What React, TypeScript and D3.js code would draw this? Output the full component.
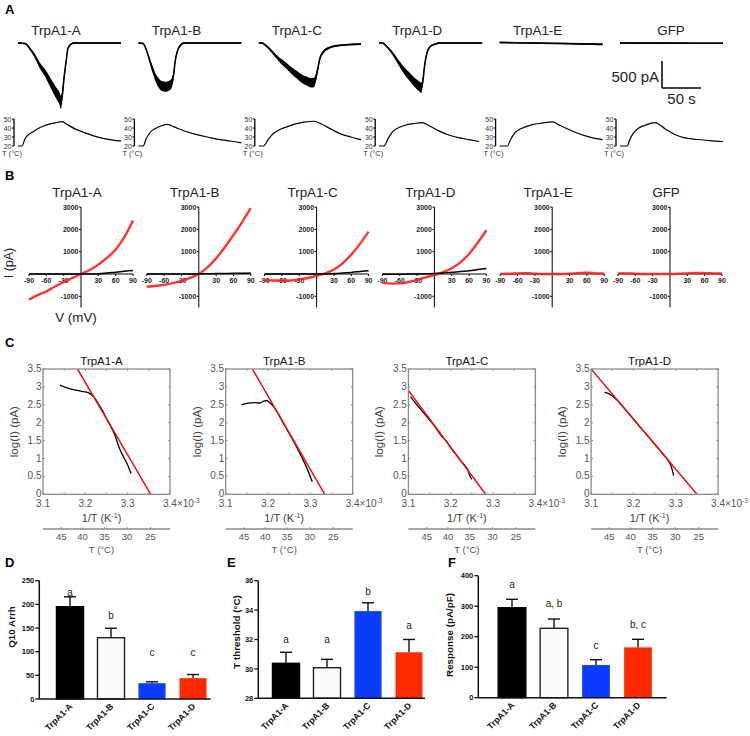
import React from "react";
import * as d3 from "d3";

// ---------- Panel A: current traces [time s, current pA] ----------
const traceNames = ["TrpA1-A", "TrpA1-B", "TrpA1-C", "TrpA1-D", "TrpA1-E", "GFP"];
const curA = [[0,0],[9,-10],[15,-100],[22,-250],[28,-420],[35,-560],[41,-720],[46,-850],[50,-950],[53,-1020],[55,-1100],[56,-1050],[59,-650],[62,-300],[64,-100],[68,-20],[72,0],[132,0]];
const curB = [[0,0],[6,-10],[10,-120],[14,-300],[18,-480],[22,-640],[26,-740],[29,-790],[35,-810],[38,-800],[42,-760],[45,-600],[47,-350],[50,-150],[54,-40],[59,0],[132,0]];
const curC = [[0,0],[4,0],[10,-60],[17,-160],[23,-260],[29,-345],[36,-430],[42,-510],[49,-590],[55,-660],[62,-710],[67,-740],[71,-730],[73,-650],[76,-450],[78,-300],[83,-160],[90,-90],[103,-45],[131,-20]];
const curD = [[0,0],[4,0],[10,-70],[17,-190],[23,-320],[28,-430],[33,-530],[40,-640],[46,-740],[51,-800],[54,-830],[56,-700],[58,-440],[61,-200],[65,-70],[72,-20],[77,0],[132,0]];
const curE = [[0,10],[40,0],[80,-10],[132,-25]];
const curGFP = [[0,0],[66,-3],[132,-5]];
const currents = [curA, curB, curC, curD, curE, curGFP];

// temperature traces [time s, °C]
const tmpA = [[0,20],[5,20],[9,28],[14,33],[19,35.6],[26,39.5],[32,42],[41,44.5],[49,46],[56,47],[64,43.5],[73,39],[83,35.6],[96,31.5],[109,28.5],[122,26.5],[132,25.6]];
const tmpB = [[0,20],[6,20],[10,28],[15,35],[22,39.5],[28,42],[37,44],[45,41.5],[58,37],[71,33.5],[83,31],[96,28.5],[109,26.5],[122,25],[132,23.5]];
const tmpC = [[0,20],[6,20],[12,27],[17,32.5],[23,36.5],[35,41],[45,44],[58,46.5],[71,47.5],[79,45],[94,38],[105,33.5],[118,30],[131,27]];
const tmpD = [[0,20],[6,20],[12,29],[17,35.6],[24,40],[33,43],[45,45],[55,46],[64,42.5],[77,36.5],[90,32],[103,29],[115,27],[128,25]];
const tmpE = [[0,20],[10,20],[14,27],[19,34],[28,39.5],[41,43.5],[54,45.5],[68,46.8],[77,43],[96,35.6],[109,31.5],[122,28.5],[132,27]];
const tmpGFP = [[0,20],[9,20],[13,28],[17,34],[24,40],[32,43],[45,46],[58,39],[71,32.5],[83,29],[96,27.5],[115,26],[132,25]];
const temps = [tmpA, tmpB, tmpC, tmpD, tmpE, tmpGFP];
const tempTicks = [20, 30, 40, 50];

// ---------- Panel B: I-V curves ----------
const ivVolts = [-90,-75,-60,-45,-30,-15,0,15,30,45,60,75,90];
const ivRed = [
  [-1150,-950,-780,-560,-360,-180,0,180,420,720,1100,1650,2400],
  [-570,-540,-490,-410,-310,-170,0,300,700,1200,1750,2330,2950],
  [-280,-290,-300,-290,-250,-180,-80,30,200,480,870,1350,1900],
  [-400,-430,-420,-360,-260,-150,-40,80,260,520,900,1400,1960],
  [0,10,30,40,10,0,0,0,10,40,60,30,20],
  [20,30,10,0,0,0,0,10,30,50,40,30,20],
];
const ivBlack = [
  [0,0,0,0,0,0,0,0,10,40,80,120,160],
  [0,0,0,0,0,0,0,10,20,20,30,30,50],
  [0,0,0,0,0,0,0,0,20,40,70,110,150],
  [-10,-10,-10,-5,0,10,20,40,80,110,150,200,250],
  [],
  [],
];
const ivTicksX = [-90,-60,-30,30,60,90];
const ivTicksY = [3000,2000,1000,-1000];

// ---------- Panel C: Arrhenius plots (1/T in 1e-3 K^-1, log I) ----------
const arrNames = ["TrpA1-A","TrpA1-B","TrpA1-C","TrpA1-D"];
const arrBlackA = [[3.14,3.05],[3.16,2.96],[3.18,2.9],[3.2,2.86],[3.21,2.82],[3.22,2.72],[3.23,2.55],[3.24,2.35],[3.25,2.12],[3.26,1.9],[3.27,1.65],[3.28,1.3],[3.29,1.05],[3.3,0.82],[3.308,0.58]];
const arrBlackB = [[3.137,2.5],[3.15,2.54],[3.17,2.56],[3.18,2.55],[3.19,2.6],[3.197,2.62],[3.205,2.55],[3.215,2.42],[3.23,2.12],[3.25,1.7],[3.265,1.38],[3.275,1.15],[3.29,0.78],[3.3045,0.35]];
const arrBlackC = [[3.105,2.72],[3.12,2.5],[3.14,2.22],[3.16,1.93],[3.18,1.6],[3.19,1.48],[3.2,1.3],[3.21,1.15],[3.225,0.92],[3.235,0.78],[3.24,0.7],[3.245,0.52],[3.25,0.42]];
const arrBlackD = [[3.132,2.85],[3.14,2.82],[3.15,2.75],[3.16,2.65],[3.18,2.38],[3.2,2.1],[3.22,1.82],[3.24,1.55],[3.26,1.27],[3.275,1.05],[3.285,0.88],[3.29,0.75],[3.295,0.52]];
const arrFitA = [[3.1815,3.5],[3.3545,0]];
const arrFitB = [[3.163,3.5],[3.334,0]];
const arrFitC = [[3.1,2.9],[3.2826,0]];
const arrFitD = [[3.1,3.5],[3.35,0]];
const arrBlack = [arrBlackA, arrBlackB, arrBlackC, arrBlackD];
const arrFit = [arrFitA, arrFitB, arrFitC, arrFitD];
const arrTicksX = [3.1,3.2,3.3,3.4];
const arrMinorX = [3.1,3.15,3.2,3.25,3.3,3.35,3.4];
const arrTicksY = [0,0.5,1,1.5,2,2.5,3,3.5];
const arrTempTicks = [45,40,35,30,25];

// ---------- Panels D, E, F: bar charts ----------
const barCats = ["TrpA1-A","TrpA1-B","TrpA1-C","TrpA1-D"];
const q10Mean = [195,129.5,33.3,44];
const q10Err = [21,20,3,7.7];
const q10Letters = ["a","b","c","c"];
const q10LetterY = [218,169,90,90];
const q10Ticks = [0,50,100,150,200,250];
const thrMean = [30.38,30.08,33.93,31.13];
const thrErr = [0.75,0.57,0.57,0.87];
const thrLetters = ["a","a","b","a"];
const thrLetterY = [31.76,31.76,35.02,32.71];
const thrTicks = [28,30,32,34,36];
const respMean = [295,227.5,107,165];
const respErr = [27.6,30.5,17.6,26.5];
const respLetters = ["a","a, b","c","b, c"];
const respLetterY = [358.7,297,158.7,228.5];
const respTicks = [0,100,200,300,400];
const barFill = ["#000000","#fafafa","#0a3cff","#ff2a00"];
const barStroke = ["#000000","#222222","none","none"];

const FONT = "'Liberation Sans', Arial, Helvetica, sans-serif";

function PanelA() {
  const yCur = d3.scaleLinear().domain([0, -500]).range([43, 70]);
  const yTemp = d3.scaleLinear().domain([20, 50]).range([146, 119]);
  const hw = (v: number) => 12 + 0.1 * Math.abs(v);
  return (
    <g>
      <text x={5} y={14} fontSize={13} fontWeight="bold">A</text>
      {traceNames.map((name, i) => {
        const x0 = 18 + i * 120.4;
        const xs = d3.scaleLinear().domain([0, 132]).range([x0, x0 + 103]);
        const band = d3.area<number[]>().x(d => xs(d[0])).y0(d => yCur(d[1] - hw(d[1]))).y1(d => yCur(d[1] + hw(d[1]))).curve(d3.curveMonotoneX);
        const line = d3.line<number[]>().x(d => xs(d[0])).y(d => yCur(d[1])).curve(d3.curveMonotoneX);
        const tline = d3.line<number[]>().x(d => xs(d[0])).y(d => yTemp(d[1])).curve(d3.curveMonotoneX);
        const ax = x0 - 4;
        const tx = name === "GFP" ? x0 + 51 : x0 + 38;
        return (
          <g key={name}>
            <text x={tx} y={35} fontSize={13.4} textAnchor="middle" fill="#222">{name}</text>
            <path d={band(currents[i]) || ""} fill="#000" />
            <path d={line(currents[i]) || ""} fill="none" stroke="#000" strokeWidth={1.6} />
            <line x1={ax} x2={ax} y1={yTemp(50)} y2={yTemp(20)} stroke="#000" strokeWidth={1.3} />
            {tempTicks.map(t => (
              <g key={t}>
                <line x1={ax - 2} x2={ax} y1={yTemp(t)} y2={yTemp(t)} stroke="#000" strokeWidth={1} />
                <text x={ax - 2.5} y={yTemp(t) + 2.5} fontSize={7} textAnchor="end" fill="#333">{t}</text>
              </g>
            ))}
            <text x={x0 - 16} y={156} fontSize={7.5} fill="#333">T (°C)</text>
            <path d={tline(temps[i]) || ""} fill="none" stroke="#000" strokeWidth={1.2} />
          </g>
        );
      })}
      {(() => {
        const xs = d3.scaleLinear().domain([0, 132]).range([0, 103]);
        const bx = 662;
        const by = 88;
        const barH = yCur(-500) - yCur(0);
        const barW = xs(50) - xs(0);
        return (
          <g>
            <line x1={bx} x2={bx} y1={by - barH} y2={by} stroke="#000" strokeWidth={1.5} />
            <line x1={bx} x2={bx + barW} y1={by} y2={by} stroke="#000" strokeWidth={1.5} />
            <text x={bx - 3} y={82} fontSize={15} textAnchor="end" fill="#222">500 pA</text>
            <text x={bx + barW / 2} y={104} fontSize={15} textAnchor="middle" fill="#222">50 s</text>
          </g>
        );
      })()}
    </g>
  );
}

function PanelB() {
  const y = d3.scaleLinear().domain([0, 1000]).range([274, 251.7]);
  return (
    <g>
      <text x={5} y={180} fontSize={13} fontWeight="bold">B</text>
      <text transform={`translate(13,263) rotate(-90)`} fontSize={12.5} textAnchor="middle" fill="#222">I (pA)</text>
      <text x={76} y={322} fontSize={13.4} textAnchor="middle" fill="#222">V (mV)</text>
      {traceNames.map((name, i) => {
        const cx = 81 + i * 117.8;
        const x = d3.scaleLinear().domain([-90, 90]).range([cx - 52, cx + 52]);
        const line = d3.line<number>().x((_, k) => x(ivVolts[k])).y(v => y(v)).curve(d3.curveMonotoneX);
        return (
          <g key={name}>
            <text x={cx - 4} y={197} fontSize={13.4} textAnchor="middle" fill="#222">{name}</text>
            <line x1={x(-90)} x2={x(90)} y1={y(0)} y2={y(0)} stroke="#000" strokeWidth={1} />
            <line x1={x(0)} x2={x(0)} y1={y(3000)} y2={y(-1500)} stroke="#000" strokeWidth={1} />
            {ivTicksY.map(t => (
              <g key={t}>
                <line x1={x(0) - 2} x2={x(0)} y1={y(t)} y2={y(t)} stroke="#000" strokeWidth={1} />
                <text x={x(0) - 2.5} y={y(t) + 2.5} fontSize={7} fontWeight="bold" textAnchor="end" fill="#222">{t}</text>
              </g>
            ))}
            {ivTicksX.map(t => (
              <g key={t}>
                <line x1={x(t)} x2={x(t)} y1={y(0)} y2={y(0) + 2} stroke="#000" strokeWidth={1} />
                <text x={x(t)} y={y(0) + 8.5} fontSize={7} fontWeight="bold" textAnchor="middle" fill="#222">{t}</text>
              </g>
            ))}
            <path d={line(ivRed[i]) || ""} fill="none" stroke="#ff1e1e" strokeWidth={2.4} strokeOpacity={0.9} />
            {ivBlack[i].length > 0 && (
              <path d={line(ivBlack[i]) || ""} fill="none" stroke="#000" strokeWidth={1.5} />
            )}
          </g>
        );
      })}
    </g>
  );
}

function PanelC() {
  const top = 369;
  const bottom = 494.3;
  const w = 127;
  const y = d3.scaleLinear().domain([0, 3.5]).range([bottom, top]);
  return (
    <g>
      <text x={5} y={347} fontSize={13} fontWeight="bold">C</text>
      {arrNames.map((name, i) => {
        const left = 43 + i * 182.7;
        const x = d3.scaleLinear().domain([3.1, 3.4]).range([left, left + w]);
        const line = d3.line<number[]>().x(d => x(d[0])).y(d => y(d[1])).curve(d3.curveMonotoneX);
        const fit = d3.line<number[]>().x(d => x(d[0])).y(d => y(d[1]));
        const taxY = 529;
        return (
          <g key={name}>
            <text x={left + w / 2 - 5} y={365} fontSize={11.5} textAnchor="middle" fill="#111">{name}</text>
            <clipPath id={`clipC${i}`}>
              <rect x={left} y={top} width={w} height={bottom - top} />
            </clipPath>
            <g clipPath={`url(#clipC${i})`}>
              <path d={line(arrBlack[i]) || ""} fill="none" stroke="#000" strokeWidth={1.3} />
              <path d={fit(arrFit[i]) || ""} fill="none" stroke="#ee1111" strokeWidth={1.5} />
            </g>
            <rect x={left} y={top} width={w} height={bottom - top} fill="none" stroke="#8a8a8a" strokeWidth={1.3} />
            {arrMinorX.map(t => (
              <g key={t}>
                <line x1={x(t)} x2={x(t)} y1={bottom} y2={bottom - 1.8} stroke="#8a8a8a" />
                <line x1={x(t)} x2={x(t)} y1={top} y2={top + 1.8} stroke="#8a8a8a" />
              </g>
            ))}
            {arrTicksY.map(t => (
              <g key={t}>
                <line x1={left} x2={left + 1.8} y1={y(t)} y2={y(t)} stroke="#8a8a8a" />
                <line x1={left + w} x2={left + w - 1.8} y1={y(t)} y2={y(t)} stroke="#8a8a8a" />
                <text x={left - 1.5} y={y(t) + 3} fontSize={10} textAnchor="end" fill="#555">{t}</text>
              </g>
            ))}
            {arrTicksX.map(t => (
              t === 3.4 ? (
                <text key={t} x={x(t) - 7} y={bottom + 12.5} fontSize={10} fill="#555">3.4×10<tspan dy={-4} fontSize={6.5}>-3</tspan></text>
              ) : (
                <text key={t} x={x(t)} y={bottom + 12.5} fontSize={10} textAnchor="middle" fill="#555">{t}</text>
              )
            ))}
            <text x={left + w / 2 - 5} y={522} fontSize={11} textAnchor="middle" fill="#444">1/T (K<tspan dy={-4} fontSize={7}>-1</tspan><tspan dy={4}>)</tspan></text>
            <text transform={`translate(${left - 25},${(top + bottom) / 2}) rotate(-90)`} fontSize={11.5} textAnchor="middle" fill="#444">log(I) (pA)</text>
            <line x1={left} x2={left + w} y1={taxY} y2={taxY} stroke="#8a8a8a" strokeWidth={1.3} />
            {arrTempTicks.map(t => {
              const inv = 1000 / (t + 273.15);
              return (
                <g key={t}>
                  <line x1={x(inv)} x2={x(inv)} y1={taxY} y2={taxY - 1.8} stroke="#8a8a8a" />
                  <text x={x(inv)} y={taxY + 11} fontSize={9.5} textAnchor="middle" fill="#555">{t}</text>
                </g>
              );
            })}
            <text x={left + w / 2 - 5} y={553} fontSize={9.5} textAnchor="middle" fill="#555">T (°C)</text>
          </g>
        );
      })}
    </g>
  );
}

type BarProps = {
  axisX: number; axisEnd: number; yBottom: number; yTop: number; domain: number[];
  ticks: number[]; means: number[]; errs: number[]; letters: string[]; letterY: number[];
  rangeStart: number; step: number; label: string; labelX: number; labelY: number;
  panel: string; panelX: number;
};

function BarPanel(p: BarProps) {
  const y = d3.scaleLinear().domain(p.domain).range([p.yBottom, p.yTop]);
  const x = d3.scaleBand<string>().domain(barCats).range([p.rangeStart, p.rangeStart + 4 * p.step]).paddingInner(0.34).paddingOuter(0.17);
  const bw = x.bandwidth();
  return (
    <g>
      <text x={p.panelX} y={567} fontSize={13} fontWeight="bold">{p.panel}</text>
      <text transform={`translate(${p.labelX},${p.labelY}) rotate(-90)`} fontSize={9.8} fontWeight="bold" textAnchor="middle" fill="#111">{p.label}</text>
      {barCats.map((c, i) => {
        const bx = x(c) as number;
        const cx = bx + bw / 2;
        const topV = p.means[i] + p.errs[i];
        return (
          <g key={c}>
            <line x1={cx} x2={cx} y1={y(p.means[i])} y2={y(topV)} stroke="#111" strokeWidth={1.4} />
            <line x1={cx - 6} x2={cx + 6} y1={y(topV)} y2={y(topV)} stroke="#111" strokeWidth={1.4} />
            <rect x={bx} y={y(p.means[i])} width={bw} height={p.yBottom - y(p.means[i])} fill={barFill[i]} stroke={barStroke[i]} strokeWidth={barStroke[i] === "none" ? 0 : 1.4} />
            <text x={cx} y={y(p.letterY[i])} fontSize={10} textAnchor="middle" fill="#222">{p.letters[i]}</text>
            <text transform={`translate(${cx + 3},${p.yBottom + 8}) rotate(-45)`} fontSize={8.8} fontWeight="bold" textAnchor="end" fill="#111">{c}</text>
          </g>
        );
      })}
      <line x1={p.axisX} x2={p.axisX} y1={p.yBottom} y2={p.yTop} stroke="#111" strokeWidth={1.5} />
      <line x1={p.axisX} x2={p.axisEnd} y1={p.yBottom} y2={p.yBottom} stroke="#111" strokeWidth={1.5} />
      {p.ticks.map(t => (
        <g key={t}>
          <line x1={p.axisX - 4} x2={p.axisX} y1={y(t)} y2={y(t)} stroke="#111" strokeWidth={1.3} />
          <text x={p.axisX - 5} y={y(t) + 2.7} fontSize={7.5} fontWeight="bold" textAnchor="end" fill="#111">{t}</text>
        </g>
      ))}
    </g>
  );
}

export default function App() {
  return (
    <svg width={750} height={736} style={{ position: "absolute", left: 0, top: 0, background: "#fff" }} fontFamily={FONT}>
      <rect width={750} height={736} fill="#fff" />
      <PanelA />
      <PanelB />
      <PanelC />
      <BarPanel axisX={39.3} axisEnd={210.7} yBottom={699} yTop={580.7} domain={[0, 250]} ticks={q10Ticks}
        means={q10Mean} errs={q10Err} letters={q10Letters} letterY={q10LetterY} rangeStart={49.5} step={41}
        label="Q10 Arrh" labelX={15} labelY={627} panel="D" panelX={5} />
      <BarPanel axisX={258.3} axisEnd={425} yBottom={698.3} yTop={580.7} domain={[28, 36]} ticks={thrTicks}
        means={thrMean} errs={thrErr} letters={thrLetters} letterY={thrLetterY} rangeStart={265.5} step={41}
        label="T threshold (°C)" labelX={240} labelY={632} panel="E" panelX={227} />
      <BarPanel axisX={478.3} axisEnd={666.7} yBottom={697.7} yTop={575.7} domain={[0, 400]} ticks={respTicks}
        means={respMean} errs={respErr} letters={respLetters} letterY={respLetterY} rangeStart={491} step={42}
        label="Response (pA/pF)" labelX={453} labelY={635} panel="F" panelX={448} />
    </svg>
  );
}
